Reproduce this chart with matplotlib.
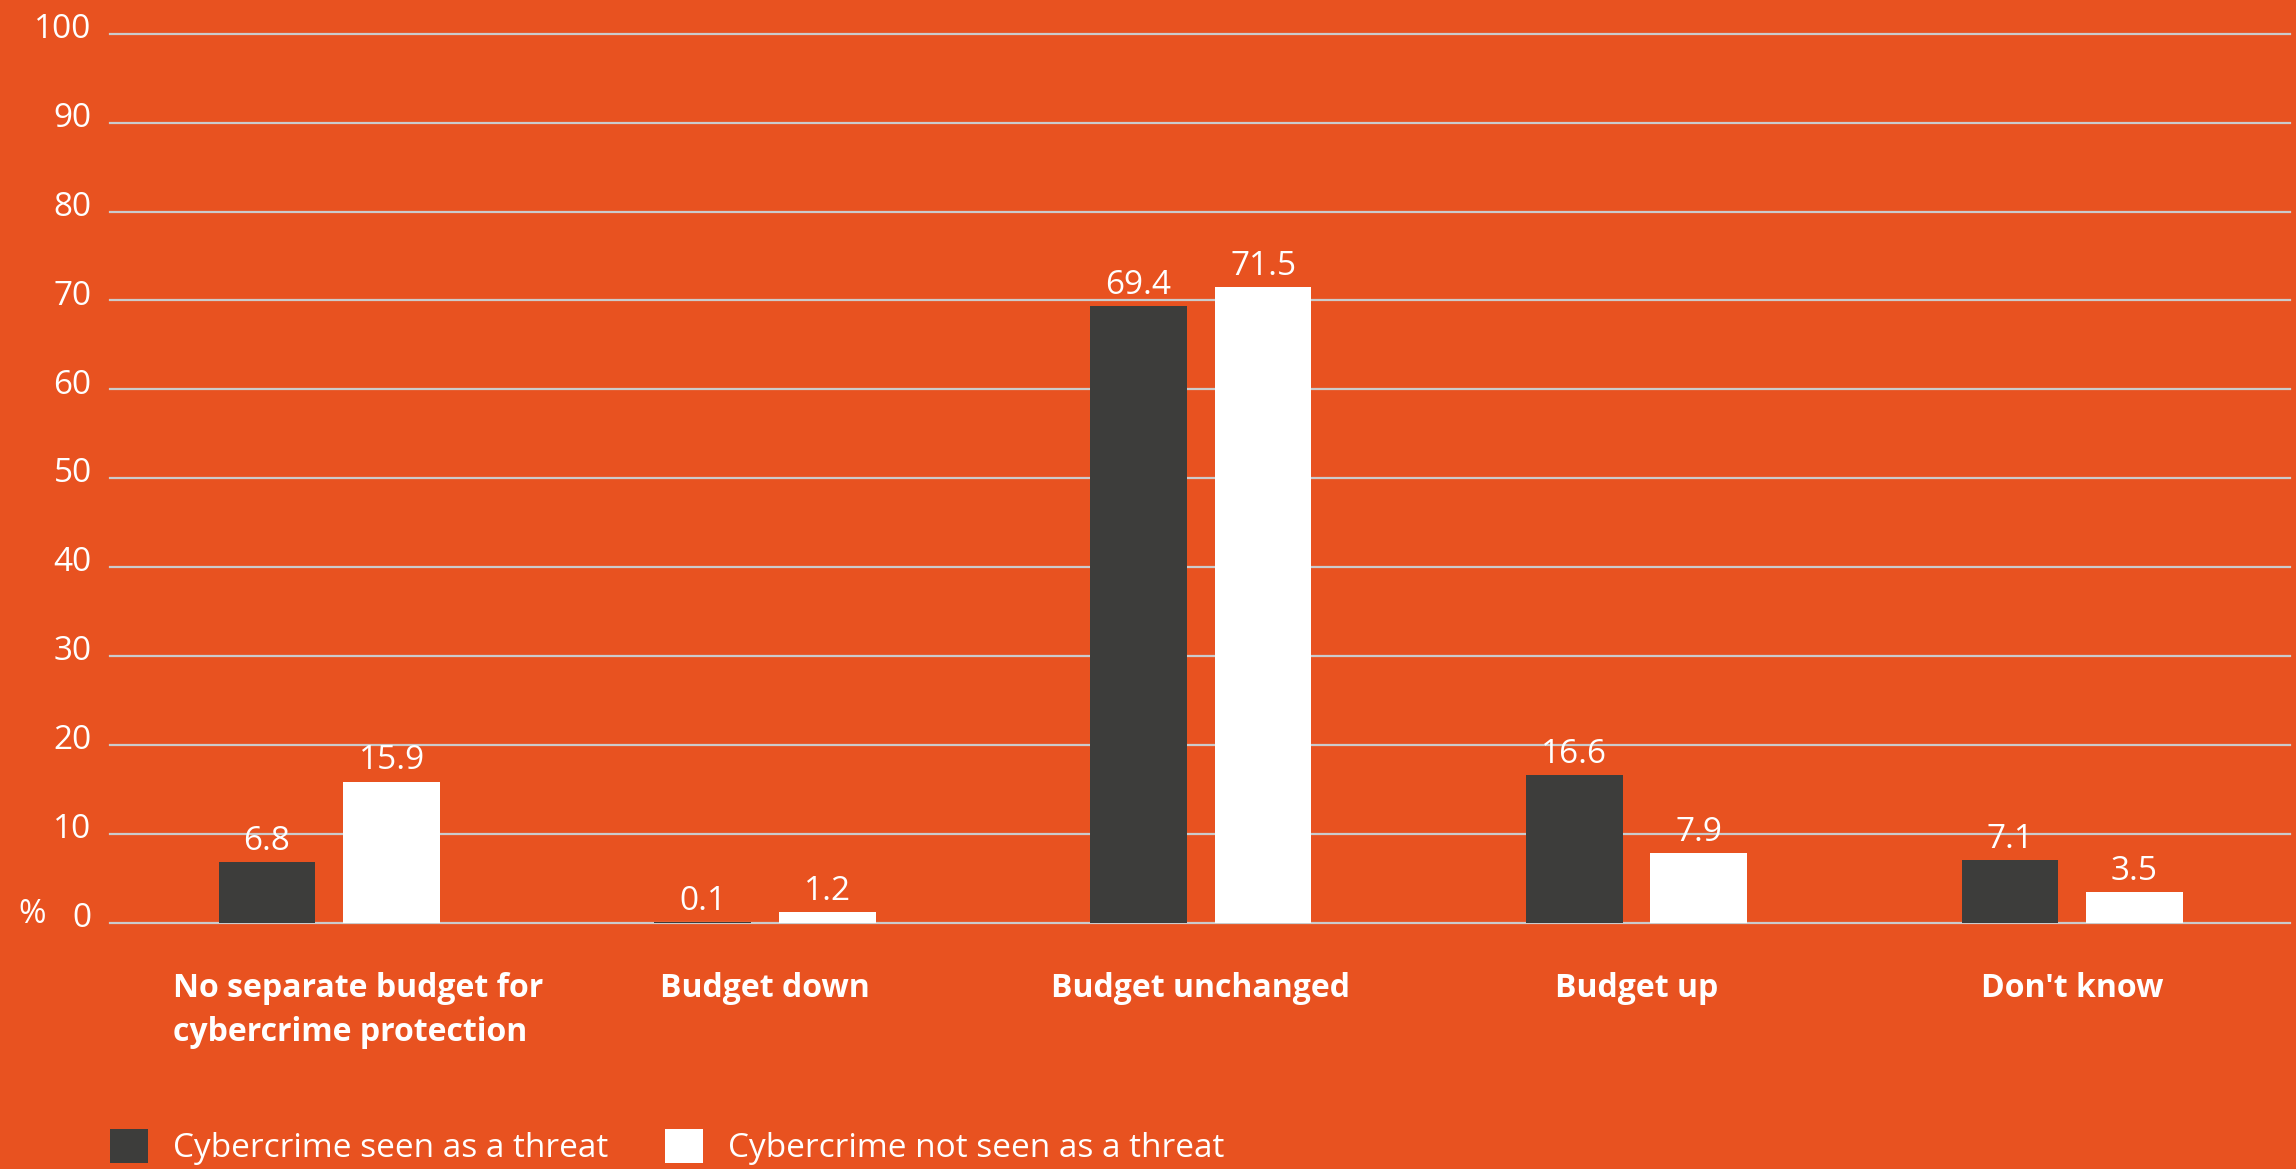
import numpy as np
import matplotlib.pyplot as plt
from matplotlib.transforms import ScaledTranslation

# data
categories = ['No separate budget for\ncybercrime protection', 'Budget down',
              'Budget unchanged', 'Budget up', "Don't know"]
threat = [6.8, 0.1, 69.4, 16.6, 7.1]
no_threat = [15.9, 1.2, 71.5, 7.9, 3.5]
series_names = ['Cybercrime seen as a threat', 'Cybercrime not seen as a threat']
yticks = list(range(0, 101, 10))

ORANGE = '#E85220'
DARK = '#3D3D3B'
GRID = '#CBCBCB'

plt.rcParams['font.family'] = ['Open Sans', 'DejaVu Sans']

fig = plt.figure(figsize=(22.96, 11.69), dpi=100, facecolor=ORANGE)
ax = fig.add_axes([0.0478, 0.2105, 0.9496, 0.7607])
ax.set_facecolor(ORANGE)

x = np.arange(len(categories))
w = 0.222
off = 0.143
b1 = ax.bar(x - off, threat, w, color=DARK, label=series_names[0], zorder=3)
b2 = ax.bar(x + off, no_threat, w, color='white', label=series_names[1], zorder=3)
for bars in (b1, b2):
    ax.bar_label(bars, fmt='%.1f', padding=3, color='white', fontsize=24)

ax.set_xlim(-0.504, 4.5)
ax.set_ylim(0, 100)
ax.set_yticks(yticks)
for t in yticks:
    ax.axhline(t, color=GRID, lw=1.6, zorder=1, clip_on=False)

for s in ax.spines.values():
    s.set_visible(False)

ax.tick_params(axis='y', length=0, pad=13, labelsize=24, labelcolor='white')
ax.tick_params(axis='x', length=0, pad=35, labelcolor='white')
ax.set_xticks(x)
ax.set_xticklabels(categories, fontsize=23, fontweight='bold', va='top',
                   linespacing=1.45)
first = ax.get_xticklabels()[0]
first.set_multialignment('left')
first.set_transform(first.get_transform() +
                    ScaledTranslation(21 / 72, 0, fig.dpi_scale_trans))

# y labels sit slightly above their gridlines
shift = ScaledTranslation(0, 6 / 72, fig.dpi_scale_trans)
for lab in ax.get_yticklabels():
    lab.set_transform(lab.get_transform() + shift)

ax.annotate('%', xy=(0, 0), xycoords=('axes fraction', 'data'),
            xytext=(-56, 6), textcoords='offset points',
            ha='center', va='center', color='white', fontsize=24)

fig.legend(handles=[b1, b2], loc='upper left',
           bbox_to_anchor=(75 / 1568, 1 - 771 / 798),
           frameon=False, ncol=2, fontsize=24, labelcolor='white',
           handlelength=1.15, handleheight=1.15, handletextpad=0.75,
           columnspacing=1.7, borderpad=0, borderaxespad=0)

fig.savefig('out.png', dpi=100, facecolor=ORANGE)
